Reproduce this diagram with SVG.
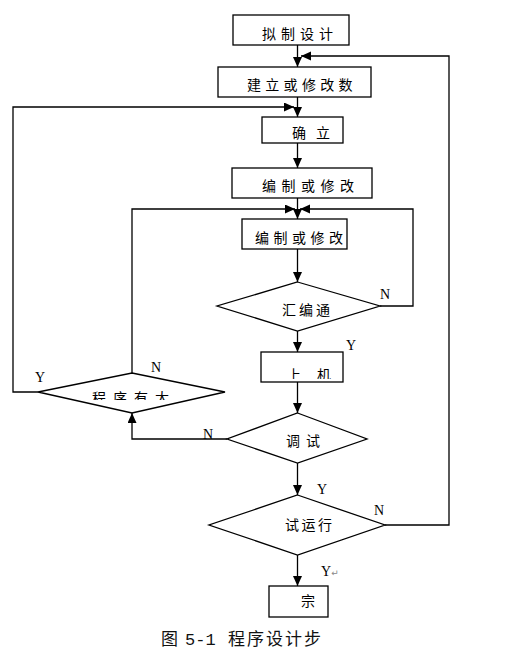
<svg xmlns="http://www.w3.org/2000/svg" width="506" height="661" viewBox="0 0 506 661">
<style>
.box{fill:#fff;stroke:#000;stroke-width:1.3}
.ln{fill:none;stroke:#000;stroke-width:1.3}
.t{font-family:"Noto Sans CJK SC","Liberation Sans",sans-serif;font-size:14px;fill:#000}
.yn{font-family:"Liberation Serif",serif;font-size:14px;fill:#000}
.cap{font-family:"Liberation Mono","Noto Sans CJK SC",monospace;font-size:17px;fill:#111}
</style>
<defs>
<marker id="ah" markerUnits="userSpaceOnUse" markerWidth="11" markerHeight="10" refX="10" refY="4.5" orient="auto">
<path d="M0,0 L10,4.5 L0,9 z" fill="#000"/>
</marker>
<clipPath id="clipA"><rect x="60" y="380" width="130" height="20"/></clipPath>
<clipPath id="clipB"><rect x="280" y="356" width="60" height="23"/></clipPath>
</defs>
<rect width="506" height="661" fill="#fff"/>
<g id="connectors">
<path class="ln" d="M297.5,45 V67" marker-end="url(#ah)"/>
<path class="ln" d="M297.5,97 V117" marker-end="url(#ah)"/>
<path class="ln" d="M297.5,143 V168" marker-end="url(#ah)"/>
<path class="ln" d="M297.5,198 V219" marker-end="url(#ah)"/>
<path class="ln" d="M297.5,249 V282" marker-end="url(#ah)"/>
<path class="ln" d="M297.5,331 V352" marker-end="url(#ah)"/>
<path class="ln" d="M297.5,382 V413" marker-end="url(#ah)"/>
<path class="ln" d="M297.5,463 V495" marker-end="url(#ah)"/>
<path class="ln" d="M297.5,555 V586" marker-end="url(#ah)"/>
<path class="ln" d="M380,306 H413 V209 H300" marker-end="url(#ah)"/>
<path class="ln" d="M132,373 V209 H295" marker-end="url(#ah)"/>
<path class="ln" d="M38,392 H13 V107 H294" marker-end="url(#ah)"/>
<path class="ln" d="M227,439 H132 V413" marker-end="url(#ah)"/>
<path class="ln" d="M385,525 H449 V56 H301" marker-end="url(#ah)"/>
</g>
<g id="n1"><rect class="box" x="233" y="15" width="116" height="30"/><text class="t" x="262" y="38.5" letter-spacing="5">拟制设计</text></g>
<g id="n2"><rect class="box" x="218" y="67" width="153" height="30"/><text class="t" x="247" y="89.5" letter-spacing="4.3">建立或修改数</text></g>
<g id="n3"><rect class="box" x="262" y="117" width="81" height="26"/><text class="t" x="292" y="138" letter-spacing="10">确立</text></g>
<g id="n4"><rect class="box" x="232" y="168" width="140" height="30"/><text class="t" x="262" y="191" letter-spacing="5.5">编制或修改</text></g>
<g id="n5"><rect class="box" x="242" y="219" width="105" height="30"/><text class="t" x="255" y="243" letter-spacing="4.5">编制或修改</text></g>
<g id="n6"><polygon class="box" points="297.5,282 380,306 297.5,331 217,306"/><text class="t" x="282" y="315" letter-spacing="3">汇编通</text></g>
<g id="n7"><rect class="box" x="261" y="352" width="82" height="30"/><text class="t" x="287" y="380" letter-spacing="16" clip-path="url(#clipB)">上机</text></g>
<g id="n8"><polygon class="box" points="132,373 225,392 132,413 38,392"/><text class="t" x="92" y="403" letter-spacing="7" clip-path="url(#clipA)">程序有大</text></g>
<g id="n9"><polygon class="box" points="297.5,413 367,439 297.5,463 227,439"/><text class="t" x="286" y="446" letter-spacing="6">调试</text></g>
<g id="n10"><polygon class="box" points="297.5,495 385,525 297.5,555 209,525"/><text class="t" x="285" y="530" letter-spacing="2.5">试运行</text></g>
<g id="n11"><rect class="box" x="269" y="586" width="59" height="31"/><text class="t" x="301" y="606">宗</text></g>
<g id="labels">
<text class="yn" x="380" y="299">N</text>
<text class="yn" x="346" y="350">Y</text>
<text class="yn" x="35" y="382">Y</text>
<text class="yn" x="151" y="372">N</text>
<text class="yn" x="203" y="439" fill="#1a2a6a">N</text>
<text class="yn" x="317" y="494">Y</text>
<text class="yn" x="374" y="515">N</text>
<text class="yn" x="321" y="576">Y<tspan font-size="9" fill="#888" font-family="DejaVu Sans,sans-serif">↵</tspan></text>
<text class="cap" y="645"><tspan x="161">图</tspan><tspan x="185">5-1</tspan><tspan x="228" letter-spacing="2">程序设计步</tspan></text>
</g>
</svg>
